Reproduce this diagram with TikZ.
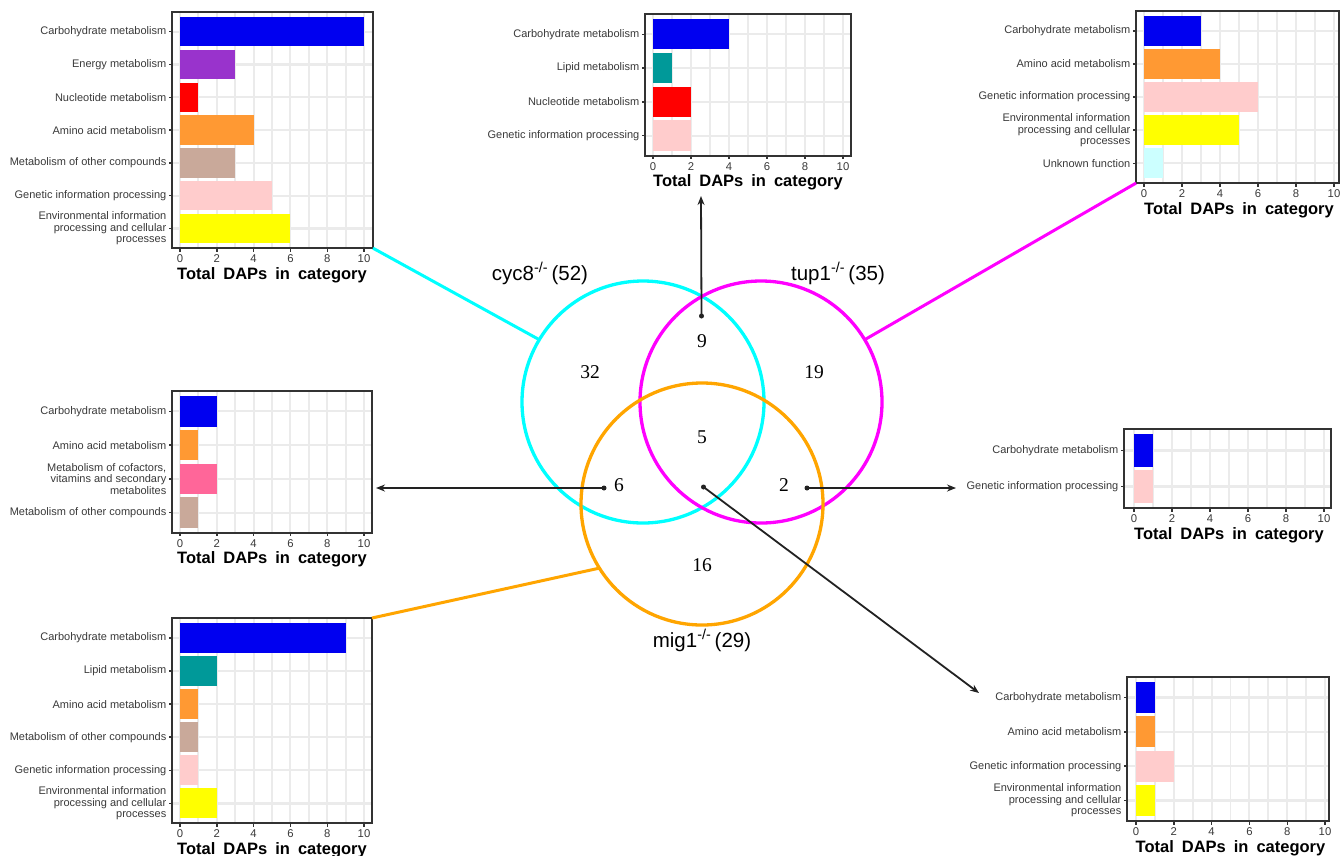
\documentclass[tikz,border=0pt]{standalone}
\usepackage{fontspec}
\setmainfont{Liberation Serif}
\setsansfont{Liberation Sans}
\usetikzlibrary{arrows.meta}
\definecolor{cblue}{HTML}{0000F0}
\definecolor{cpurple}{HTML}{9933CC}
\definecolor{cred}{HTML}{FF0000}
\definecolor{corange}{HTML}{FF9933}
\definecolor{ctan}{HTML}{C9A99A}
\definecolor{cpink}{HTML}{FFCCCC}
\definecolor{cyellow}{HTML}{FFFF00}
\definecolor{cteal}{HTML}{009999}
\definecolor{chotpink}{HTML}{FF6699}
\definecolor{clcyan}{HTML}{CCFFFF}
\definecolor{gridc}{HTML}{EBEBEB}
\definecolor{framec}{HTML}{333333}
\definecolor{axtext}{HTML}{3A3A3A}
\definecolor{vcyan}{HTML}{00FFFF}
\definecolor{vmag}{HTML}{FF00FF}
\definecolor{vorange}{HTML}{FFA500}
\definecolor{arrc}{HTML}{222222}
\tikzset{
  gridv/.style={draw=gridc, line width=1.9pt},
  gridh/.style={draw=gridc, line width=2.3pt},
  panel/.style={draw=framec, line width=1.9pt},
  axtick/.style={draw=framec, line width=1.4pt},
  ylab/.style={font=\sffamily\fontsize{11}{11.4}\selectfont, text=axtext, anchor=east, align=right, inner sep=0pt},
  xlab/.style={font=\sffamily\fontsize{11.3}{12}\selectfont, text=axtext, anchor=base, inner sep=0pt},
  xtitle/.style={font=\sffamily\bfseries\fontsize{16.5}{18}\selectfont, text=black, anchor=base, inner sep=0pt},
  venn/.style={circle, draw, line width=3.3pt, minimum size=242pt, inner sep=0pt, outer sep=0pt},
  vlabel/.style={font=\sffamily\fontsize{20.5}{22}\selectfont, anchor=base, inner sep=0pt},
  vnum/.style={font=\fontsize{19.5}{21}\selectfont, inner sep=0pt},
  dotnode/.style={circle, fill=arrc, minimum size=5pt, inner sep=0pt, outer sep=0pt},
  arr/.style={draw=arrc, line width=1.8pt, -{Stealth[length=9pt,width=7pt]}},
  link/.style={line width=3pt},
}
\newcommand{\setchart}[7]{\def\kXo{#1}\def\kU{#2}\def\kT{#3}\def\kS{#4}\def\kN{#5}\def\kL{#6}\def\kR{#7}\pgfmathsetmacro\kB{#3+#4*(#5+0.2)}}
\newcommand{\drawgrid}{%
  \foreach \k in {0,...,10}{\draw[gridv] ({\kXo+\k*\kU},\kT) -- ({\kXo+\k*\kU},\kB);}
  \foreach \i in {1,...,\kN}{\draw[gridh] (\kL,{\kT+\kS*(\i-0.4)}) -- (\kR,{\kT+\kS*(\i-0.4)});}
}
\newcommand{\cbar}[4]{%
  \pgfmathsetmacro\kY{\kT+\kS*(#1-0.4)}
  \fill[#3] (\kXo,{\kY-0.45*\kS}) rectangle ({\kXo+#2*\kU},{\kY+0.45*\kS});
  \draw[axtick] (\kL,\kY) -- ({\kL-3.5},\kY);
  \node[ylab] at ({\kL-5.5},\kY) {#4};
}
\newcommand{\finishchart}[1]{%
  \draw[panel] (\kL,\kT) rectangle (\kR,\kB);
  \foreach \k in {0,2,...,10}{%
    \draw[axtick] ({\kXo+\k*\kU},\kB) -- ({\kXo+\k*\kU},{\kB+3.5});
    \node[xlab] at ({\kXo+\k*\kU},{\kB+14.5}) {\k};}
  \node[xtitle] (#1title) at ({\kXo+5*\kU},{\kB+31}) {Total\hspace{8pt}DAPs\hspace{8pt}in\hspace{8pt}category};
  \coordinate (#1tl) at (\kL,\kT);
  \coordinate (#1tr) at (\kR,\kT);
  \coordinate (#1bl) at (\kL,\kB);
  \coordinate (#1br) at (\kR,\kB);
}
\begin{document}
\begin{tikzpicture}[x=1pt,y=-1pt]
\useasboundingbox (0,0) rectangle (1340,855);
\fill[white] (0,0) rectangle (1340,855);

% Chart 1: cyc8
\setchart{180}{18.4}{12}{32.8}{7}{172}{373}
\drawgrid
\cbar{1}{10}{cblue}{Carbohydrate metabolism}
\cbar{2}{3}{cpurple}{Energy metabolism}
\cbar{3}{1}{cred}{Nucleotide metabolism}
\cbar{4}{4}{corange}{Amino acid metabolism}
\cbar{5}{3}{ctan}{Metabolism of other compounds}
\cbar{6}{5}{cpink}{Genetic information processing}
\cbar{7}{6}{cyellow}{Environmental information\\processing and cellular\\processes}
\finishchart{ca}

% Chart 2: 9
\setchart{653}{19}{14}{33.8}{4}{645}{851}
\drawgrid
\cbar{1}{4}{cblue}{Carbohydrate metabolism}
\cbar{2}{1}{cteal}{Lipid metabolism}
\cbar{3}{2}{cred}{Nucleotide metabolism}
\cbar{4}{2}{cpink}{Genetic information processing}
\finishchart{cb}

% Chart 3: tup1
\setchart{1144}{19}{11}{33.1}{5}{1136}{1339}
\drawgrid
\cbar{1}{3}{cblue}{Carbohydrate metabolism}
\cbar{2}{4}{corange}{Amino acid metabolism}
\cbar{3}{6}{cpink}{Genetic information processing}
\cbar{4}{5}{cyellow}{Environmental information\\processing and cellular\\processes}
\cbar{5}{1}{clcyan}{Unknown function}
\finishchart{cc}

% Chart 4: 6
\setchart{180}{18.4}{391}{33.8}{4}{172}{372}
\drawgrid
\cbar{1}{2}{cblue}{Carbohydrate metabolism}
\cbar{2}{1}{corange}{Amino acid metabolism}
\cbar{3}{2}{chotpink}{Metabolism of cofactors,\\vitamins and secondary\\metabolites}
\cbar{4}{1}{ctan}{Metabolism of other compounds}
\finishchart{cd}

% Chart 5: 2
\setchart{1134}{19}{429}{36}{2}{1124}{1331}
\drawgrid
\cbar{1}{1}{cblue}{Carbohydrate metabolism}
\cbar{2}{1}{cpink}{Genetic information processing}
\finishchart{ce}

% Chart 6: mig1
\setchart{180}{18.4}{618}{33.1}{6}{172}{372}
\drawgrid
\cbar{1}{9}{cblue}{Carbohydrate metabolism}
\cbar{2}{2}{cteal}{Lipid metabolism}
\cbar{3}{1}{corange}{Amino acid metabolism}
\cbar{4}{1}{ctan}{Metabolism of other compounds}
\cbar{5}{1}{cpink}{Genetic information processing}
\cbar{6}{2}{cyellow}{Environmental information\\processing and cellular\\processes}
\finishchart{cf}

% Chart 7: 5
\setchart{1136}{18.9}{677}{34.3}{4}{1127}{1329}
\drawgrid
\cbar{1}{1}{cblue}{Carbohydrate metabolism}
\cbar{2}{1}{corange}{Amino acid metabolism}
\cbar{3}{2}{cpink}{Genetic information processing}
\cbar{4}{1}{cyellow}{Environmental information\\processing and cellular\\processes}
\finishchart{cg}

% Venn
\node[venn, draw=vcyan] (cyc) at (643,402) {};
\node[venn, draw=vmag] (tup) at (761,402) {};
\node[venn, draw=vorange] (mig) at (702,504) {};

\node[vlabel] (lcyc) at (540,280) {cyc8\textsuperscript{-/-}\,(52)};
\node[vlabel] (ltup) at (838,280) {tup1\textsuperscript{-/-}\,(35)};
\node[vlabel] (lmig) at (702,647) {mig1\textsuperscript{-/-}\,(29)};

\node[vnum] (n32) at (590,372) {32};
\node[vnum] (n9) at (702,341) {9};
\node[vnum] (n19) at (814,372) {19};
\node[vnum] (n5) at (702,437) {5};
\node[vnum] (n6) at (619,485) {6};
\node[vnum] (n2) at (784,485) {2};
\node[vnum] (n16) at (702,565) {16};

% colored links
\draw[link, draw=vcyan] (cabr) -- (cyc.149);
\draw[link, draw=vmag] (ccbl) -- (tup.31);
\draw[link, draw=vorange] (cftr) -- (mig.212);

% arrows
\node[dotnode] (d9) at (701.5,316) {};
\node[dotnode] (d6) at (604,488) {};
\node[dotnode] (d2) at (807,488) {};
\node[dotnode] (d5) at (703.5,487) {};
\coordinate (t9) at (701,196);
\coordinate (t6) at (376,488);
\coordinate (t2) at (956,488);
\coordinate (t5) at (979,693);
\draw[arr] (d9.center) -- (t9);
\draw[arr] (d6.center) -- (t6);
\draw[arr] (d2.center) -- (t2);
\draw[arr] (d5.center) -- (t5);
\end{tikzpicture}
\end{document}
